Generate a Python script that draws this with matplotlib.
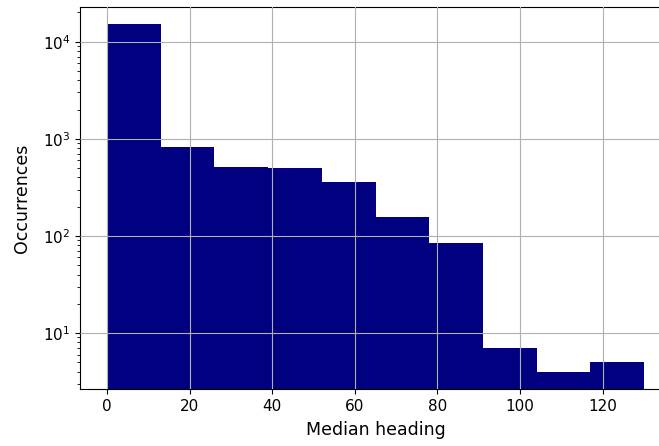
import numpy as np
import matplotlib
matplotlib.use('Agg')
import matplotlib.pyplot as plt

# histogram of median heading, 10 bins of width 13
bin_edges = [0, 13, 26, 39, 52, 65, 78, 91, 104, 117, 130]
counts = [15070, 823, 508, 497, 357, 158, 85, 7, 4, 5]

centers = 0.5 * (np.array(bin_edges[:-1]) + np.array(bin_edges[1:]))

fig = plt.figure(figsize=(6.59, 4.46), dpi=100)
ax = fig.add_axes([80 / 659, 57 / 446, 591 / 659, 382 / 446])

ax.hist(centers, bins=bin_edges, weights=counts, log=True, color='navy')
ax.set_xlabel('Median heading', fontsize=12.5, labelpad=5)
ax.set_ylabel('Occurrences', fontsize=12.5, labelpad=8)
ax.tick_params(labelsize=11)
ax.grid(True)
ax.set_axisbelow(False)

fig.savefig('out.png', dpi=100)
